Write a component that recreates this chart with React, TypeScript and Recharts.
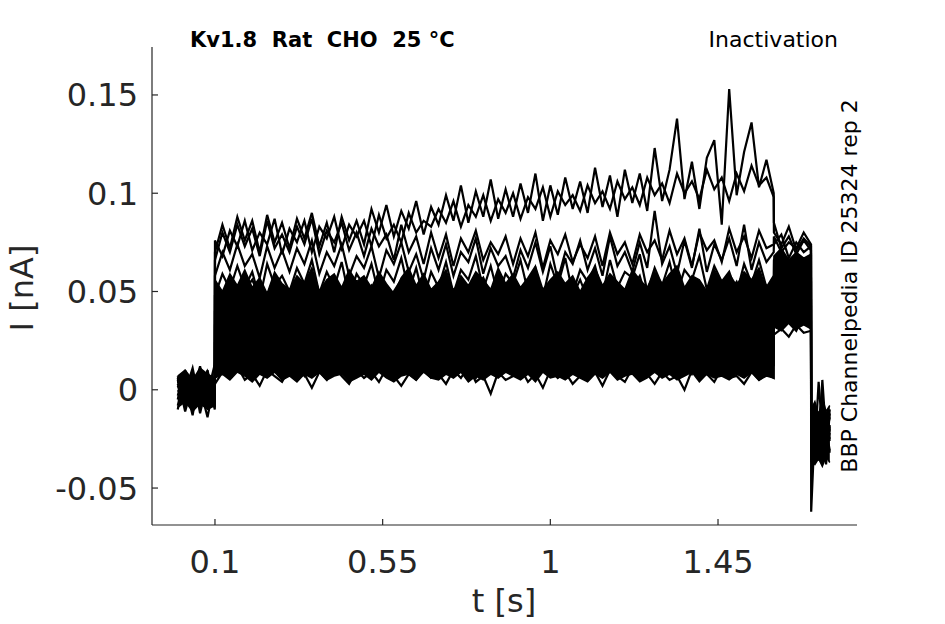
import { Area, ComposedChart, Line, XAxis, YAxis } from "recharts";

// sample times [s]: holding (0-0.1), prepulse (0.1-1.6), test (1.6-1.7), tail (1.7-1.75)
const TIME = [
  0, 0.02, 0.04, 0.06, 0.08, 0.0995,
  0.1, 0.12, 0.14, 0.16, 0.18, 0.2, 0.22, 0.24, 0.26, 0.28,
  0.3, 0.32, 0.34, 0.36, 0.38, 0.4, 0.42, 0.44, 0.46, 0.48,
  0.5, 0.52, 0.54, 0.56, 0.58, 0.6, 0.62, 0.64, 0.66, 0.68,
  0.7, 0.72, 0.74, 0.76, 0.78, 0.8, 0.82, 0.84, 0.86, 0.88,
  0.9, 0.92, 0.94, 0.96, 0.98, 1.0, 1.02, 1.04, 1.06, 1.08,
  1.1, 1.12, 1.14, 1.16, 1.18, 1.2, 1.22, 1.24, 1.26, 1.28,
  1.3, 1.32, 1.34, 1.36, 1.38, 1.4, 1.42, 1.44, 1.46, 1.48,
  1.5, 1.52, 1.54, 1.56, 1.58, 1.5995,
  1.6, 1.62, 1.64, 1.66, 1.68, 1.6995,
  1.7, 1.71, 1.72, 1.73, 1.74, 1.75,
];

// densely overlapping sweeps: lower / upper edge of the solid band (pA)
const CORE_LOW = [
  -9, -6, -11, -7, -10, -8,
  6, 8, 5, 9, 7, 4, 8, 6, 9, 5,
  7, 4, 8, 6, 9, 5, 7, 8, 4, 6,
  8, 5, 9, 6, 4, 7, 8, 5, 9, 6,
  5, 8, 6, 9, 4, 7, 5, 8, 6, 9,
  7, 5, 8, 4, 9, 6, 7, 5, 8, 6,
  4, 8, 6, 9, 5, 7, 8, 4, 6, 9,
  6, 8, 5, 7, 9, 4, 8, 6, 7, 5,
  8, 6, 9, 5, 7, 6,
  32, 30, 34, 31, 33, 31,
  -36, -38, -35, -39, -34, -37,
];
const CORE_HIGH = [
  7, 10, 5, 11, 8, 6,
  56, 50, 59, 53, 61, 52, 57, 49, 60, 54,
  51, 58, 54, 62, 50, 56, 59, 52, 61, 55,
  58, 52, 60, 54, 49, 57, 62, 53, 59, 51,
  55, 61, 50, 58, 53, 60, 56, 51, 62, 54,
  59, 52, 57, 63, 51, 56, 60, 54, 58, 50,
  57, 62, 53, 59, 55, 51, 61, 56, 52, 60,
  54, 59, 63, 52, 58, 56, 50, 61, 55, 59,
  53, 60, 56, 62, 51, 57,
  68, 72, 66, 70, 67, 69,
  -10, -6, -13, -4, -11, -8,
];

// currents in pA, one sweep each
const SWEEP_A = [
  -3, 8, -9, 5, -6, 2,
  70, 84, 72, 88, 76, 86, 70, 89, 75, 85,
  72, 87, 77, 90, 73, 85, 70, 88, 76, 86,
  74, 92, 80, 94, 78, 91, 82, 96, 79, 93,
  84, 99, 86, 104, 85, 101, 88, 107, 87, 102,
  88, 105, 90, 110, 86, 104, 89, 108, 92, 106,
  90, 113, 93, 109, 88, 112, 95, 110, 91, 123,
  96, 112, 138, 97, 116, 92, 118, 127, 84, 153,
  99, 121, 136, 103, 117, 100,
  85, 72, 78, 69, 76, 71,
  -62, -18, -27, -9, -22, -14,
];
const SWEEP_A2 = [
  5, -9, 8, -3, 6, -10,
  76, 68, 81, 73, 86, 71, 80, 74, 87, 69,
  82, 75, 86, 70, 83, 77, 88, 72, 84, 78,
  86, 73, 89, 77, 84, 75, 90, 80, 86, 83,
  92, 85, 96, 83, 94, 88, 99, 86, 97, 90,
  100, 87, 98, 92, 103, 88, 101, 94, 99, 91,
  104, 95, 101, 92, 106, 97, 103, 94, 108, 99,
  105, 95, 110, 100, 106, 97, 112, 102, 108, 96,
  110, 101, 114, 104, 108, 98,
  80, 74, 83, 71, 77, 73,
  -8, -30, 4, -21, -33, -12,
];
const SWEEP_J = [
  3, -7, 6, -2, 9, -5,
  66, 80, 70, 84, 73, 82, 68, 86, 72, 79,
  70, 83, 74, 87, 69, 81, 75, 85, 71, 80,
  68, 82, 73, 79, 66, 84, 70, 78, 64, 80,
  67, 79, 63, 77, 70, 81, 66, 75, 69, 78,
  64, 77, 68, 80, 62, 76, 69, 79, 65, 74,
  67, 78, 63, 80, 69, 75, 64, 79, 70, 76,
  66, 81, 69, 77, 63, 80, 71, 76, 65, 82,
  70, 78, 67, 81, 72, 74,
  78, 70, 75, 72, 80, 74,
  -18, -25, -30, -14, -26, -19,
];
const SWEEP_B = [
  6, -11, 3, -4, 10, -7,
  58, 70, 61, 74, 63, 69, 57, 73, 62, 71,
  60, 72, 64, 76, 59, 70, 63, 74, 58, 68,
  62, 73, 57, 71, 64, 75, 60, 69, 56, 72,
  61, 74, 58, 70, 65, 77, 59, 72, 63, 68,
  57, 71, 62, 75, 60, 73, 56, 70, 64, 76,
  61, 72, 58, 78, 63, 70, 60, 75, 62, 91,
  64, 73, 59, 76, 62, 82, 60, 74, 66, 77,
  63, 84, 61, 75, 65, 70,
  74, 79, 67, 75, 70, 73,
  -25, -33, -15, -28, -20, -31,
];
const SWEEP_C = [
  -8, 4, -2, 12, -5, 7,
  48, 59, 51, 63, 52, 60, 46, 64, 53, 58,
  50, 62, 54, 66, 49, 60, 52, 65, 47, 59,
  53, 64, 48, 61, 55, 67, 50, 62, 46, 60,
  52, 65, 49, 61, 56, 68, 51, 63, 48, 59,
  54, 66, 50, 62, 47, 64, 53, 67, 49, 61,
  55, 63, 48, 66, 52, 60, 57, 69, 50, 62,
  53, 65, 49, 61, 56, 68, 51, 63, 55, 60,
  49, 64, 54, 66, 52, 58,
  66, 71, 63, 69, 64, 68,
  -12, -24, -36, -19, -30, -22,
];
const SWEEP_D = [
  2, -6, 9, -12, 4, -1,
  40, 49, 53, 45, 51, 56, 47, 44, 52, 48,
  43, 50, 47, 55, 49, 42, 51, 46, 54, 50,
  45, 53, 48, 41, 50, 56, 46, 52, 44, 49,
  54, 47, 51, 45, 43, 52, 57, 48, 46, 53,
  49, 44, 51, 55, 47, 50, 42, 53, 48, 56,
  46, 51, 49, 43, 54, 47, 52, 58, 45, 50,
  53, 48, 44, 51, 56, 46, 50, 43, 52, 49,
  55, 47, 51, 45, 53, 48,
  58, 64, 60, 55, 62, 57,
  -30, -8, -21, -34, -16, -26,
];
const SWEEP_E = [
  -10, 7, -3, 1, -14, 5,
  33, 36, 42, 38, 31, 40, 44, 37, 35, 41,
  39, 34, 43, 36, 40, 32, 38, 45, 37, 41,
  35, 42, 39, 33, 44, 38, 36, 41, 30, 39,
  43, 37, 40, 35, 46, 39, 34, 41, 38, 44,
  36, 40, 33, 42, 39, 45, 37, 41, 35, 38,
  42, 36, 44, 39, 34, 41, 37, 46, 40, 35,
  39, 43, 37, 32, 41, 38, 45, 36, 42, 40,
  37, 44, 39, 35, 42, 40,
  52, 56, 49, 58, 51, 54,
  -20, -29, -11, -25, -38, -18,
];
const SWEEP_F = [
  4, -1, 11, -7, 3, -9,
  24, 31, 27, 22, 33, 29, 26, 35, 28, 30,
  25, 32, 29, 36, 27, 23, 31, 28, 34, 26,
  30, 33, 25, 29, 37, 27, 31, 24, 32, 28,
  26, 34, 30, 28, 23, 32, 29, 35, 27, 31,
  33, 27, 30, 25, 36, 29, 32, 26, 31, 34,
  28, 24, 33, 30, 27, 35, 29, 31, 25, 32,
  30, 36, 26, 31, 28, 34, 29, 24, 33, 27,
  31, 28, 35, 29, 32, 30,
  45, 50, 43, 47, 53, 46,
  -35, -17, -28, 5, -23, -32,
];
const SWEEP_G = [
  -5, 10, -8, 6, -2, 13,
  14, 22, 18, 25, 20, 16, 23, 19, 27, 21,
  17, 24, 20, 15, 22, 26, 19, 21, 16, 23,
  25, 18, 21, 24, 14, 20, 27, 19, 22, 17,
  21, 16, 24, 19, 26, 22, 18, 23, 15, 20,
  23, 19, 27, 21, 17, 24, 20, 16, 25, 22,
  18, 24, 21, 26, 19, 15, 23, 20, 28, 21,
  24, 17, 22, 19, 25, 21, 16, 23, 20, 26,
  19, 23, 17, 24, 21, 22,
  39, 43, 36, 45, 40, 42,
  -16, -27, -20, -31, -12, -25,
];
const SWEEP_H = [
  7, -4, 1, -9, 8, -3,
  8, 14, 11, 17, 12, 15, 9, 18, 13, 10,
  16, 12, 7, 14, 19, 11, 13, 9, 17, 12,
  10, 15, 13, 8, 16, 12, 18, 11, 14, 9,
  13, 17, 10, 15, 12, 6, 14, 11, 16, 13,
  11, 15, 9, 18, 12, 14, 10, 16, 13, 7,
  14, 12, 17, 10, 15, 11, 13, 19, 9, 14,
  12, 16, 10, 14, 8, 15, 13, 17, 11, 12,
  15, 10, 14, 12, 16, 13,
  32, 37, 34, 30, 38, 35,
  -28, -14, -33, -22, -27, -10,
];
const SWEEP_I = [
  -1, 3, -13, 9, -6, 0,
  3, 9, 6, 12, 5, 8, 2, 10, 7, 4,
  11, 6, 8, 1, 9, 5, 12, 7, 3, 10,
  6, 9, 4, 11, 7, 2, 8, 5, 10, 6,
  8, 3, 10, 6, 12, 4, 7, -2, 9, 5,
  7, 11, 4, 8, 1, 10, 6, 9, 3, 7,
  5, 9, 2, 10, 7, 4, 11, 6, 8, 3,
  9, 5, 7, 0, 10, 6, 8, 4, 11, 6,
  7, 3, 9, 5, 8, 6,
  28, 31, 27, 33, 29, 30,
  -22, -31, -18, -26, -35, -20,
];

const SWEEPS = [
  SWEEP_A, SWEEP_A2, SWEEP_J, SWEEP_B, SWEEP_C, SWEEP_D,
  SWEEP_E, SWEEP_F, SWEEP_G, SWEEP_H, SWEEP_I,
];

const X_TICKS = [0.1, 0.55, 1, 1.45];
const Y_TICKS = [-0.05, 0, 0.05, 0.1, 0.15];

const AXIS = "#262626";
const FONT = "DejaVu Sans";

const rows = TIME.map((t, i) => {
  const row: Record<string, any> = { t, core: [CORE_LOW[i] / 1000, CORE_HIGH[i] / 1000] };
  SWEEPS.forEach((s, k) => {
    row[`s${k}`] = s[i] / 1000;
  });
  return row;
});

function YTick(props: any) {
  const { x, y, payload } = props;
  return (
    <g>
      <line x1={x + 14} x2={x + 20} y1={y} y2={y} stroke={AXIS} strokeWidth={1.2} />
      <text x={x} y={y} dy="0.36em" textAnchor="end" fill={AXIS} fontSize={32} fontFamily={FONT}>
        {payload.value}
      </text>
    </g>
  );
}

function XTick(props: any) {
  const { x, y, payload } = props;
  return (
    <g>
      <line x1={x} x2={x} y1={y - 25} y2={y - 31} stroke={AXIS} strokeWidth={1.2} />
      <text x={x} y={y} dy="0.71em" textAnchor="middle" fill={AXIS} fontSize={32} fontFamily={FONT}>
        {payload.value}
      </text>
    </g>
  );
}

export default function App() {
  return (
    <div style={{ position: "absolute", left: 0, top: 0, width: 945, height: 624, background: "#fff" }}>
      <ComposedChart width={945} height={624} data={rows} margin={{ top: 47, right: 88, bottom: 0, left: 0 }}>
        <XAxis
          type="number"
          dataKey="t"
          domain={[-0.069, 1.823]}
          ticks={X_TICKS}
          allowDataOverflow
          height={99}
          tickSize={0}
          tickMargin={25}
          tickLine={false}
          axisLine={{ stroke: AXIS, strokeWidth: 1.2 }}
          tick={<XTick />}
        />
        <YAxis
          type="number"
          domain={[-0.0688, 0.1744]}
          ticks={Y_TICKS}
          allowDataOverflow
          width={152}
          tickSize={0}
          tickMargin={14}
          tickLine={false}
          axisLine={{ stroke: AXIS, strokeWidth: 1.2 }}
          tick={<YTick />}
        />
        <Area
          type="linear"
          dataKey="core"
          stroke="#000"
          strokeWidth={1.5}
          fill="#000"
          fillOpacity={1}
          dot={false}
          activeDot={false}
          isAnimationActive={false}
        />
        {SWEEPS.map((_, k) => (
          <Line
            key={k}
            type="linear"
            dataKey={`s${k}`}
            stroke="#000"
            strokeWidth={2.2}
            dot={false}
            activeDot={false}
            isAnimationActive={false}
          />
        ))}
      </ComposedChart>
      <svg
        width={945}
        height={624}
        style={{ position: "absolute", left: 0, top: 0, pointerEvents: "none" }}
        fontFamily={FONT}
      >
        <text x={190} y={47} fontSize={21} fontWeight="bold" fill="#000" style={{ whiteSpace: "pre" }}>
          {"Kv1.8  Rat  CHO  25 °C"}
        </text>
        <text x={838} y={47} fontSize={22} textAnchor="end" fill="#000">
          Inactivation
        </text>
        <text transform="translate(857,286) rotate(-90)" fontSize={22} textAnchor="middle" fill="#000">
          BBP Channelpedia ID 25324 rep 2
        </text>
        <text transform="translate(33,288) rotate(-90)" fontSize={32} textAnchor="middle" fill={AXIS}>
          I [nA]
        </text>
        <text x={504} y={612} fontSize={32} textAnchor="middle" fill={AXIS}>
          t [s]
        </text>
      </svg>
    </div>
  );
}
